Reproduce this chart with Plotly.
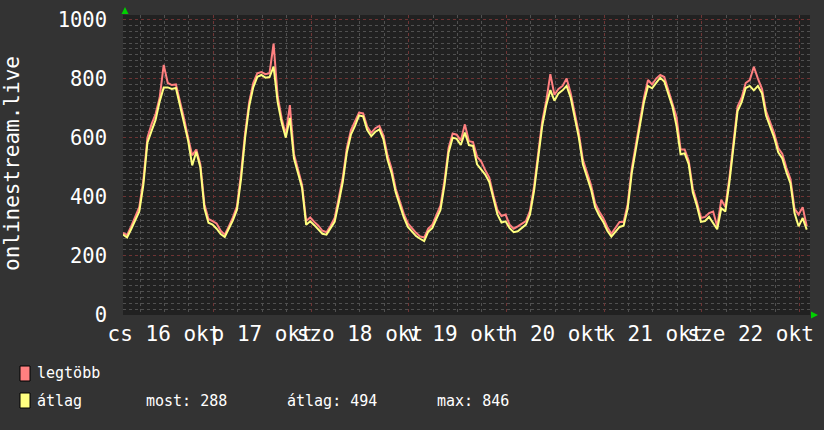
import pandas as pd
import plotly.graph_objects as go

# ---------------- data (hourly samples) ----------------
start_time = "2025-10-16 01:48"
end_time = "2025-10-23 02:36"

avg_values = [
    272, 262, 290, 318, 350, 440, 583, 622, 660, 722, 770, 770, 765, 768, 710, 650, 590, 506, 552, 500,
    361, 312, 306, 292, 274, 264, 290, 320, 356, 460, 600, 706, 770, 806, 812,
    803, 805, 840, 720, 650, 600, 667, 530, 480, 430, 305, 317, 304, 290, 275, 272, 292, 315, 380, 450,
    550, 610, 640, 675, 672, 626, 605, 620, 628, 594, 525, 480, 415, 372,
    330, 298, 282, 267, 258, 250, 282, 294, 325, 355, 440, 550, 600, 596, 575, 617, 575, 572, 510, 494,
    475, 450, 390, 340, 313, 317, 294, 280, 283, 294, 306, 340,
    420, 530, 639, 710, 761, 725, 750, 760, 775, 735, 670, 600, 510, 470, 425, 365, 337, 315, 285, 265,
    283, 298, 302, 360, 480, 560, 640, 720, 775, 767, 785, 803, 790, 745,
    705, 640, 544, 547, 510, 415, 370, 315, 318, 332, 310, 290, 361, 350, 450, 560, 690, 720, 768, 775,
    760, 775, 750, 675, 636, 600, 550, 530, 483, 445, 345, 300, 328, 289,
]

max_values = [
    278, 270, 300, 330, 365, 455, 600, 645, 680, 735, 846, 785, 778, 780, 725, 665, 600, 540, 560, 510,
    375, 325, 318, 310, 285, 272, 300, 330, 368, 478, 615, 720, 785, 818, 822,
    815, 818, 918, 740, 665, 610, 710, 545, 492, 440, 318, 330, 315, 302, 285, 280, 302, 328, 395, 465,
    565, 625, 655, 685, 682, 638, 616, 632, 640, 606, 540, 495, 428, 385,
    342, 310, 292, 278, 266, 262, 292, 305, 338, 370, 455, 565, 614, 610, 590, 645, 588, 585, 535, 520,
    490, 465, 405, 355, 335, 340, 305, 292, 300, 310, 318, 352,
    435, 545, 655, 725, 815, 745, 765, 775, 800, 750, 685, 615, 525, 485, 440, 378, 350, 328, 298, 275,
    295, 315, 315, 375, 495, 575, 655, 735, 795, 780, 800, 812, 805, 760,
    720, 670, 560, 560, 522, 428, 382, 328, 332, 345, 350, 300, 390, 365, 465, 575, 705, 735, 785, 795,
    840, 800, 765, 690, 650, 615, 565, 545, 498, 460, 360, 340, 365, 300,
]

day_label_times = [
    "2025-10-16 12:00", "2025-10-17 12:00", "2025-10-18 12:00", "2025-10-19 12:00",
    "2025-10-20 12:00", "2025-10-21 12:00", "2025-10-22 12:00",
]
day_labels = ["cs 16 okt", "p 17 okt", "szo 18 okt", "v 19 okt", "h 20 okt", "k 21 okt", "sze 22 okt"]
midnights = [
    "2025-10-17 00:00", "2025-10-18 00:00", "2025-10-19 00:00", "2025-10-20 00:00",
    "2025-10-21 00:00", "2025-10-22 00:00", "2025-10-23 00:00",
]
y_ticks = [0, 200, 400, 600, 800, 1000]

series_names = ["legtöbb", "átlag"]
stat_labels = ["most: 288", "átlag: 494", "max: 846"]
y_title = "onlinestream.live"

# ---------------- styling ----------------
W, H = 824, 430
L, R, T, B = 123, 14, 15, 115
PW, PH = W - L - R, H - T - B

RED = "#ff8080"
YEL = "#ffff80"
PAPER = "#333333"
PLOT = "#212121"
MAJOR = "#6e3434"
MINOR = "#505050"
FONT = "DejaVu Sans Mono"


def px(x):
    return (x - L) / PW


def py(y):
    return (T + PH - y) / PH


times = pd.date_range(start=start_time, periods=len(avg_values), freq="h")

fig = go.Figure()
fig.add_trace(go.Scatter(x=times, y=max_values, mode="lines", line=dict(color=RED, width=2),
                         name=series_names[0], hoverinfo="skip"))
fig.add_trace(go.Scatter(x=times, y=avg_values, mode="lines", line=dict(color=YEL, width=2),
                         name=series_names[1], xaxis="x2", hoverinfo="skip"))

fig.update_layout(
    width=W, height=H, autosize=False,
    margin=dict(l=L, r=R, t=T, b=B, pad=0, autoexpand=False),
    paper_bgcolor=PAPER, plot_bgcolor=PLOT,
    showlegend=False,
    font=dict(family=FONT, color="#ffffff", size=20),
    xaxis=dict(
        type="date", range=[start_time, end_time],
        tickmode="array", tickvals=midnights, ticktext=[""] * len(midnights),
        showticklabels=False, ticks="",
        showgrid=True, gridcolor=MAJOR, griddash="dot", gridwidth=1,
        minor=dict(dtick=6 * 3600 * 1000, tick0="2025-10-16 00:00", showgrid=True,
                   gridcolor=MINOR, griddash="dot", gridwidth=1),
        zeroline=False, showline=False, fixedrange=True, automargin=False,
    ),
    xaxis2=dict(
        type="date", overlaying="x", matches="x", anchor="y", side="bottom",
        tickmode="array", tickvals=day_label_times, ticktext=day_labels,
        tickangle=0, ticks="", showgrid=False, zeroline=False, showline=False,
        tickfont=dict(family=FONT, size=21, color="#ffffff"),
        ticklabelstandoff=4, automargin=False,
    ),
    yaxis=dict(
        range=[0, 1015], tickmode="array", tickvals=y_ticks, ticks="",
        tickfont=dict(family=FONT, size=20.5, color="#ffffff"),
        ticklabelstandoff=15, automargin=False,
        showgrid=True, gridcolor=MAJOR, griddash="dot", gridwidth=1,
        minor=dict(dtick=20, tick0=0, showgrid=True, gridcolor=MINOR, griddash="dot", gridwidth=1),
        zeroline=False, showline=False, fixedrange=True,
    ),
)

# arrows (green) at axis ends
fig.add_shape(type="path", xref="paper", yref="paper",
              path=f"M {px(121.5)} {py(14)} L {px(128.5)} {py(14)} L {px(125)} {py(7)} Z",
              fillcolor="#00d000", line=dict(width=0))
fig.add_shape(type="path", xref="paper", yref="paper",
              path=f"M {px(811)} {py(311.5)} L {px(811)} {py(318.5)} L {px(818)} {py(315)} Z",
              fillcolor="#00d000", line=dict(width=0))

# y axis title
fig.add_annotation(text=y_title, xref="paper", yref="paper", x=px(12), y=py(164),
                   textangle=-90, showarrow=False, xanchor="center", yanchor="middle",
                   font=dict(family=FONT, size=21, color="#ffffff"))

# legend boxes
for (y0, y1), col in zip([(366, 381), (393, 408)], [RED, YEL]):
    fig.add_shape(type="rect", xref="paper", yref="paper", x0=px(20), x1=px(30), y0=py(y1), y1=py(y0),
                  fillcolor=col, line=dict(color="#000000", width=1))

legend_font = dict(family=FONT, size=15, color="#ffffff")
fig.add_annotation(text=series_names[0], xref="paper", yref="paper", x=px(35), y=py(373),
                   xanchor="left", yanchor="middle", showarrow=False, font=legend_font)
fig.add_annotation(text=series_names[1], xref="paper", yref="paper", x=px(35), y=py(401),
                   xanchor="left", yanchor="middle", showarrow=False, font=legend_font)
for txt, xpos in zip(stat_labels, [144, 285, 435]):
    fig.add_annotation(text=txt, xref="paper", yref="paper", x=px(xpos), y=py(401),
                       xanchor="left", yanchor="middle", showarrow=False, font=legend_font)

fig.write_html("out.html", config={"displayModeBar": False},
               post_script="document.body.style.margin='0';document.body.style.overflow='hidden';")
